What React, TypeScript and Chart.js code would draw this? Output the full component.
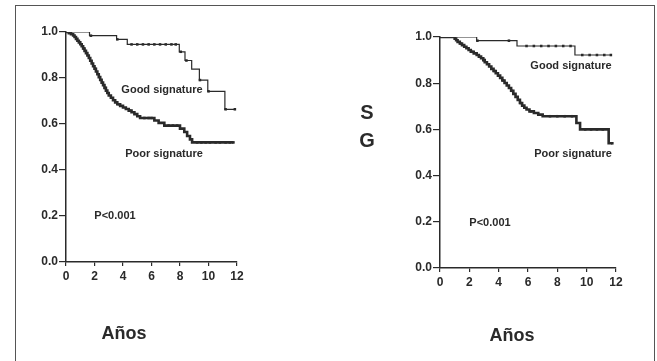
import React, { useEffect, useRef } from "react";
import { Chart, registerables } from "chart.js";
Chart.register(...registerables);

// ---------- data ----------
const xTickValues = [0, 2, 4, 6, 8, 10, 12];
const yTickValues = [0, 0.2, 0.4, 0.6, 0.8, 1.0];

// Left panel
const leftGoodTimes = [1.65, 3.55, 4.3, 7.95, 8.35, 8.82, 9.36, 9.95, 11.15, 11.85];
const leftGoodSurv = [0.984, 0.968, 0.946, 0.914, 0.876, 0.839, 0.791, 0.742, 0.664, 0.664];
const leftGoodCensT = [1.75, 3.6, 4.6, 5.0, 5.4, 5.8, 6.2, 6.6, 7.0, 7.4, 7.7, 8.05, 8.45, 9.4, 10.0, 11.2, 11.85];
const leftGoodCensS = [0.984, 0.968, 0.946, 0.946, 0.946, 0.946, 0.946, 0.946, 0.946, 0.946, 0.946, 0.914, 0.876, 0.791, 0.742, 0.664, 0.664];

const leftPoorTimes = [0.2, 0.35, 0.5, 0.6, 0.7, 0.8, 0.9, 1.0, 1.1, 1.2, 1.3, 1.4, 1.5, 1.6, 1.7, 1.8, 1.9, 2.0, 2.1, 2.2, 2.3, 2.4, 2.5, 2.6, 2.7, 2.8, 2.9, 3.0, 3.15, 3.3, 3.45, 3.6, 3.8, 4.0, 4.2, 4.4, 4.6, 4.8, 5.0, 5.2, 6.2, 6.5, 6.9, 8.0, 8.3, 8.5, 8.7, 8.85, 11.75];
const leftPoorSurv = [0.995, 0.99, 0.985, 0.978, 0.97, 0.962, 0.955, 0.947, 0.938, 0.928, 0.918, 0.908, 0.898, 0.887, 0.875, 0.863, 0.851, 0.84, 0.828, 0.816, 0.804, 0.792, 0.78, 0.769, 0.757, 0.745, 0.735, 0.724, 0.714, 0.703, 0.694, 0.686, 0.679, 0.672, 0.665, 0.658, 0.651, 0.643, 0.634, 0.626, 0.615, 0.605, 0.593, 0.58, 0.565, 0.548, 0.533, 0.52, 0.52];
const leftPoorCensT = [1.25, 2.05, 2.75, 3.7, 4.5, 5.5, 5.8, 6.0, 7.2, 7.5, 7.8, 9.2, 9.5, 9.8, 10.1, 10.5, 10.8, 11.2, 11.5, 11.75];
const leftPoorCensS = [0.928, 0.84, 0.757, 0.686, 0.658, 0.626, 0.626, 0.626, 0.593, 0.593, 0.593, 0.52, 0.52, 0.52, 0.52, 0.52, 0.52, 0.52, 0.52, 0.52];

// Right panel
const rightGoodTimes = [2.5, 5.25, 9.2, 11.65];
const rightGoodSurv = [0.984, 0.961, 0.922, 0.922];
const rightGoodCensT = [2.55, 4.7, 5.9, 6.4, 6.9, 7.4, 7.9, 8.4, 8.9, 9.7, 10.2, 10.7, 11.2, 11.65];
const rightGoodCensS = [0.984, 0.984, 0.961, 0.961, 0.961, 0.961, 0.961, 0.961, 0.961, 0.922, 0.922, 0.922, 0.922, 0.922];

const rightPoorTimes = [1.0, 1.1, 1.2, 1.35, 1.5, 1.65, 1.8, 1.95, 2.1, 2.3, 2.5, 2.65, 2.8, 2.95, 3.05, 3.2, 3.35, 3.5, 3.65, 3.8, 3.95, 4.1, 4.25, 4.4, 4.55, 4.7, 4.85, 5.0, 5.15, 5.3, 5.45, 5.6, 5.75, 5.9, 6.1, 6.4, 6.7, 7.0, 9.3, 9.55, 11.5, 11.75];
const rightPoorSurv = [0.993, 0.986, 0.979, 0.972, 0.965, 0.958, 0.951, 0.944, 0.936, 0.929, 0.922, 0.915, 0.908, 0.9, 0.891, 0.882, 0.872, 0.862, 0.853, 0.843, 0.833, 0.823, 0.812, 0.801, 0.79, 0.779, 0.767, 0.754, 0.741, 0.728, 0.714, 0.703, 0.694, 0.686, 0.678, 0.671, 0.664, 0.657, 0.628, 0.6, 0.54, 0.54];
const rightPoorCensT = [1.4, 2.2, 3.0, 3.7, 4.3, 4.9, 5.5, 6.2, 7.5, 8.0, 8.5, 9.0, 9.9, 10.3, 10.7, 11.1, 11.75];
const rightPoorCensS = [0.972, 0.936, 0.9, 0.853, 0.812, 0.767, 0.714, 0.678, 0.657, 0.657, 0.657, 0.657, 0.6, 0.6, 0.6, 0.6, 0.54];

// ---------- helpers ----------
const INK = "#2a2a2a";
const FONT = "'Liberation Sans', Arial, sans-serif";

function curve(t: number[], s: number[]) {
  return [{ x: 0, y: 1 }, ...t.map((x, i) => ({ x, y: s[i] }))];
}
function marks(t: number[], s: number[]) {
  return t.map((x, i) => ({ x, y: s[i] }));
}

function makeConfig(
  good: { x: number; y: number }[],
  goodCens: { x: number; y: number }[],
  poor: { x: number; y: number }[],
  poorCens: { x: number; y: number }[],
  pad: { left: number; top: number; right: number; bottom: number }
): any {
  const tickFont = { family: FONT, size: 12, weight: "bold" as const };
  return {
    type: "line",
    data: {
      datasets: [
        { data: good, stepped: "before", borderColor: INK, borderWidth: 1.2, pointRadius: 0, fill: false },
        { data: poor, stepped: "before", borderColor: INK, borderWidth: 2.6, pointRadius: 0, fill: false },
        { data: goodCens, showLine: false, pointStyle: "rect", pointRadius: 1.8, backgroundColor: INK, borderColor: INK, borderWidth: 0 },
        { data: poorCens, showLine: false, pointStyle: "rect", pointRadius: 1.8, backgroundColor: INK, borderColor: INK, borderWidth: 0 },
      ],
    },
    options: {
      animation: false,
      responsive: false,
      maintainAspectRatio: false,
      layout: { padding: pad },
      plugins: { legend: { display: false }, tooltip: { enabled: false } },
      scales: {
        x: {
          type: "linear",
          min: 0,
          max: 12,
          afterBuildTicks: (s: any) => { s.ticks = xTickValues.map((v) => ({ value: v })); },
          afterFit: (s: any) => { s.height = 30; },
          ticks: { color: INK, font: tickFont, padding: 3, maxRotation: 0, callback: (v: any) => String(v) },
          grid: { display: true, drawOnChartArea: false, drawTicks: true, tickLength: 4, color: INK, lineWidth: 1.2 },
          border: { display: true, color: INK, width: 1.5 },
        },
        y: {
          type: "linear",
          min: 0,
          max: 1,
          afterBuildTicks: (s: any) => { s.ticks = yTickValues.map((v) => ({ value: v })); },
          afterFit: (s: any) => { s.width = 40; },
          ticks: { color: INK, font: tickFont, padding: 1, callback: (v: any) => Number(v).toFixed(1) },
          grid: { display: true, drawOnChartArea: false, drawTicks: true, tickLength: 7, color: INK, lineWidth: 1.2 },
          border: { display: true, color: INK, width: 1.5 },
        },
      },
    },
  };
}

function KMChart(props: { cfg: () => any; style: React.CSSProperties; w: number; h: number }) {
  const ref = useRef<HTMLCanvasElement>(null);
  useEffect(() => {
    const chart = new Chart(ref.current as HTMLCanvasElement, props.cfg());
    return () => chart.destroy();
  }, []);
  return <canvas ref={ref} width={props.w} height={props.h} style={{ position: "absolute", ...props.style, width: props.w, height: props.h }} />;
}

const label = (text: string, left: number, top: number, size: number, extra: React.CSSProperties = {}) => (
  <div
    style={{
      position: "absolute",
      left,
      top,
      fontFamily: FONT,
      fontWeight: "bold",
      fontSize: size,
      color: INK,
      whiteSpace: "nowrap",
      lineHeight: 1,
      transform: "translate(-50%, -50%)",
      ...extra,
    }}
  >
    {text}
  </div>
);

export default function App() {
  return (
    <div style={{ position: "absolute", left: 0, top: 0, width: 657, height: 361, background: "#fff", overflow: "hidden" }}>
      <div style={{ position: "absolute", left: 15, top: 5, width: 638, height: 420, border: "1.5px solid #555" }} />
      <KMChart
        w={330}
        h={361}
        style={{ left: 0, top: 0 }}
        cfg={() =>
          makeConfig(
            curve(leftGoodTimes, leftGoodSurv),
            marks(leftGoodCensT, leftGoodCensS),
            curve(leftPoorTimes, leftPoorSurv),
            marks(leftPoorCensT, leftPoorCensS),
            { left: 26, top: 32, right: 93, bottom: 69 }
          )
        }
      />
      <KMChart
        w={327}
        h={361}
        style={{ left: 330, top: 0 }}
        cfg={() =>
          makeConfig(
            curve(rightGoodTimes, rightGoodSurv),
            marks(rightGoodCensT, rightGoodCensS),
            curve(rightPoorTimes, rightPoorSurv),
            marks(rightPoorCensT, rightPoorCensS),
            { left: 70, top: 37, right: 41, bottom: 63 }
          )
        }
      />
      {label("Good signature", 162, 89, 11)}
      {label("Poor signature", 164, 153, 11)}
      {label("P<0.001", 115, 215, 11)}
      {label("Años", 124, 333, 18)}
      {label("Good signature", 571, 65, 11)}
      {label("Poor signature", 573, 153, 11)}
      {label("P<0.001", 490, 222, 11)}
      {label("Años", 512, 335, 18)}
      {label("S", 367, 112, 20)}
      {label("G", 367, 140, 20)}
    </div>
  );
}
